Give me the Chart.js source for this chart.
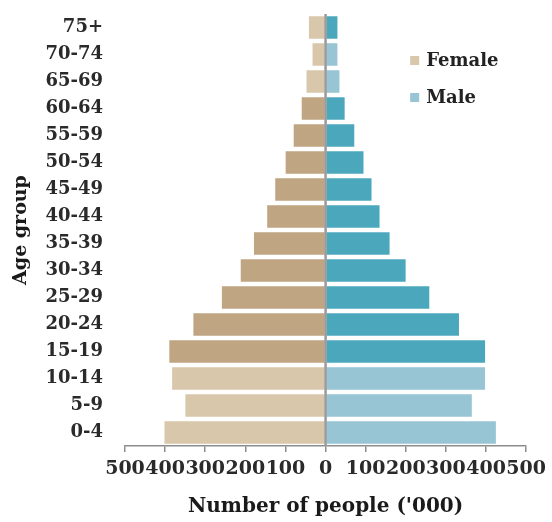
<!DOCTYPE html>
<html>
<head>
<meta charset="utf-8">
<script src="https://cdn.jsdelivr.net/npm/chart.js@4.4.0/dist/chart.umd.min.js"></script>
<style>
  html, body { margin: 0; padding: 0; background: #fff; }
  #wrap { width: 552px; height: 522px; }
</style>
</head>
<body>
<div id="wrap"><canvas id="myChart"></canvas></div>
<script>
// age groups, youngest first (axis is reversed so 75+ sits on top)
var ageGroups = ['0-4', '5-9', '10-14', '15-19', '20-24', '25-29', '30-34', '35-39',
  '40-44', '45-49', '50-54', '55-59', '60-64', '65-69', '70-74', '75+'];
// thousands of people
var femaleCounts = [404, 352, 385, 392, 332, 261, 214, 181, 148, 128, 102, 82, 62, 50, 35, 44];
var maleCounts = [427, 367, 400, 400, 335, 261, 202, 162, 137, 117, 97, 74, 50, 37, 32, 32];
var xTicks = [-500, -400, -300, -200, -100, 0, 100, 200, 300, 400, 500];

// which rows are drawn in the pale shade
var femalePale = [1, 1, 1, 0, 0, 0, 0, 0, 0, 0, 0, 0, 0, 1, 1, 1];
var malePale = [1, 1, 1, 0, 0, 0, 0, 0, 0, 0, 0, 0, 0, 1, 1, 0];

var fDark = '#bfa582', fLight = '#d8c7aa';
var mDark = '#4ba8bc', mLight = '#97c5d4';
var serif = '"DejaVu Serif", serif';

var femaleColors = femalePale.map(function(p) { return p ? fLight : fDark; });
var maleColors = malePale.map(function(p) { return p ? mLight : mDark; });

// grey line down the middle, drawn over the bars
var zeroLine = {
  id: 'zeroLine',
  afterDatasetsDraw: function(chart) {
    var c = chart.ctx, a = chart.chartArea;
    var x = chart.scales.x.getPixelForValue(0);
    c.save();
    c.strokeStyle = '#9a9a9a';
    c.lineWidth = 2.5;
    c.beginPath();
    c.moveTo(x, a.top);
    c.lineTo(x, a.bottom);
    c.stroke();
    c.restore();
  }
};

// legend sitting inside the plot, upper right
var sideLegend = {
  id: 'sideLegend',
  afterDraw: function(chart) {
    var c = chart.ctx, a = chart.chartArea;
    var items = [['Female', fLight], ['Male', mLight]];
    c.save();
    c.font = 'bold 18px ' + serif;
    c.textBaseline = 'middle';
    items.forEach(function(it, i) {
      var y = a.top + 47 + i * 37;
      c.fillStyle = it[1];
      c.fillRect(a.right - 116, y - 5, 9, 9);
      c.fillStyle = '#222';
      c.fillText(it[0], a.right - 100, y);
    });
    c.restore();
  }
};

new Chart('myChart', {
  type: 'bar',
  data: {
    labels: ageGroups,
    datasets: [
      {
        label: 'Female',
        data: femaleCounts.map(function(v) { return -v; }),
        backgroundColor: femaleColors,
        borderColor: '#ffffff',
        borderWidth: 1,
        barPercentage: 0.9,
        categoryPercentage: 1
      },
      {
        label: 'Male',
        data: maleCounts,
        backgroundColor: maleColors,
        borderColor: '#ffffff',
        borderWidth: 1,
        barPercentage: 0.9,
        categoryPercentage: 1
      }
    ]
  },
  options: {
    indexAxis: 'y',
    responsive: true,
    maintainAspectRatio: false,
    animation: false,
    layout: { padding: { left: 10, right: 24, top: 14, bottom: 3 } },
    plugins: {
      legend: { display: false },
      tooltip: { enabled: false }
    },
    scales: {
      x: {
        stacked: true,
        min: -500,
        max: 500,
        afterBuildTicks: function(scale) {
          scale.ticks = xTicks.map(function(v) { return { value: v }; });
        },
        grid: {
          drawOnChartArea: false,
          drawTicks: true,
          tickLength: 6,
          color: '#8c8c8c',
          lineWidth: 1.5
        },
        border: { display: true, color: '#8c8c8c', width: 1.5 },
        ticks: {
          autoSkip: false,
          maxRotation: 0,
          padding: 6,
          color: '#2a2a2a',
          font: { family: serif, weight: 'bold', size: 19 },
          callback: function(v) { return Math.abs(v); }
        },
        title: {
          display: true,
          text: "Number of people ('000)",
          color: '#1a1a1a',
          padding: { top: 2, bottom: 0 },
          font: { family: serif, weight: 'bold', size: 20 }
        },
        afterFit: function(scale) { scale.height = 73; }
      },
      y: {
        stacked: true,
        reverse: true,
        // invisible tick marks give the gap between labels and bars
        grid: {
          display: true,
          drawOnChartArea: false,
          drawTicks: true,
          tickLength: 22,
          color: 'rgba(0,0,0,0)'
        },
        border: { display: false },
        ticks: {
          padding: 0,
          color: '#2a2a2a',
          font: { family: serif, weight: 'bold', size: 18 }
        },
        title: {
          display: true,
          text: 'Age group',
          color: '#1a1a1a',
          padding: { top: 0, bottom: 0 },
          font: { family: serif, weight: 'bold', size: 19 }
        },
        afterFit: function(scale) { scale.width = 115; }
      }
    }
  },
  plugins: [zeroLine, sideLegend]
});
</script>
</body>
</html>
